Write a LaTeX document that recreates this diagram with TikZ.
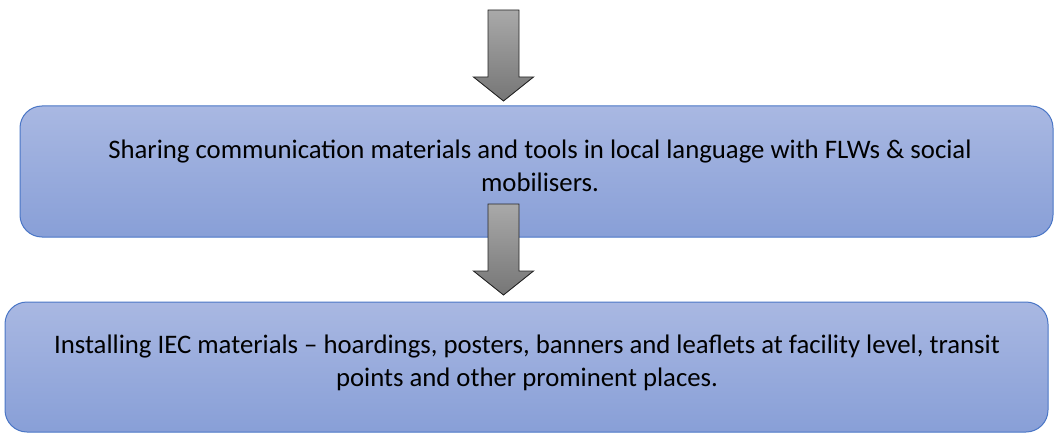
\documentclass[tikz,border=0pt]{standalone}
\usepackage{fontspec}
\setmainfont{Carlito}
\definecolor{boxtop}{HTML}{A9B8E2}
\definecolor{boxbot}{HTML}{889FD7}
\definecolor{boxline}{HTML}{4A76C6}
\definecolor{arrtop}{HTML}{A9A9A9}
\definecolor{arrbot}{HTML}{767676}
\definecolor{arrline}{HTML}{262626}
\tikzset{
  stagebox/.style={rectangle, rounded corners=22pt, draw=boxline, line width=1pt,
    top color=boxtop, bottom color=boxbot, inner sep=0pt},
  stagetext/.style={align=center, inner sep=0pt, text=black,
    font=\fontsize{26.75}{33}\selectfont},
  blockarrow/.style={draw=arrline, line width=0.9pt, line join=miter,
    top color=arrtop, bottom color=arrbot}
}
\begin{document}
\begin{tikzpicture}[x=1pt,y=-1pt]
  \useasboundingbox (0,0) rectangle (1054,433);

  % first stage
  \node[stagebox, minimum width=1033pt, minimum height=131pt] (b1) at (536.5,171.5) {};
  \node[stagetext, anchor=base] (t1) at (540,191)
    {Sharing communication materials and tools in local language with FLWs \& social\\mobilisers.};

  % second stage (its text box cuts off the lower line)
  \node[stagebox, minimum width=1043pt, minimum height=130pt] (b2) at (526.5,367) {};
  \begin{scope}
    \clip (b2.north west) rectangle ([yshift=-44pt]b2.south east);
    \node[stagetext, anchor=base] (t2) at (527,386)
      {Installing IEC materials -- hoardings, posters, banners and leaflets at facility level, transit\\points and other prominent places.};
  \end{scope}

  % down arrow into the first stage
  \coordinate (a1top) at (503.5,10);
  \path[blockarrow]
    ([xshift=-15.5pt]a1top) -- ([xshift=15.5pt]a1top)
    -- ([xshift=15.5pt]a1top |- 0,77) -- ([xshift=30pt]a1top |- 0,77)
    -- (a1top |- 0,101) -- ([xshift=-30pt]a1top |- 0,77)
    -- ([xshift=-15.5pt]a1top |- 0,77) -- cycle;

  % down arrow from the first stage to the second
  \coordinate (a2top) at (503.5,204);
  \path[blockarrow]
    ([xshift=-15.5pt]a2top) -- ([xshift=15.5pt]a2top)
    -- ([xshift=15.5pt]a2top |- 0,271) -- ([xshift=30pt]a2top |- 0,271)
    -- (a2top |- 0,295) -- ([xshift=-30pt]a2top |- 0,271)
    -- ([xshift=-15.5pt]a2top |- 0,271) -- cycle;
\end{tikzpicture}
\end{document}
